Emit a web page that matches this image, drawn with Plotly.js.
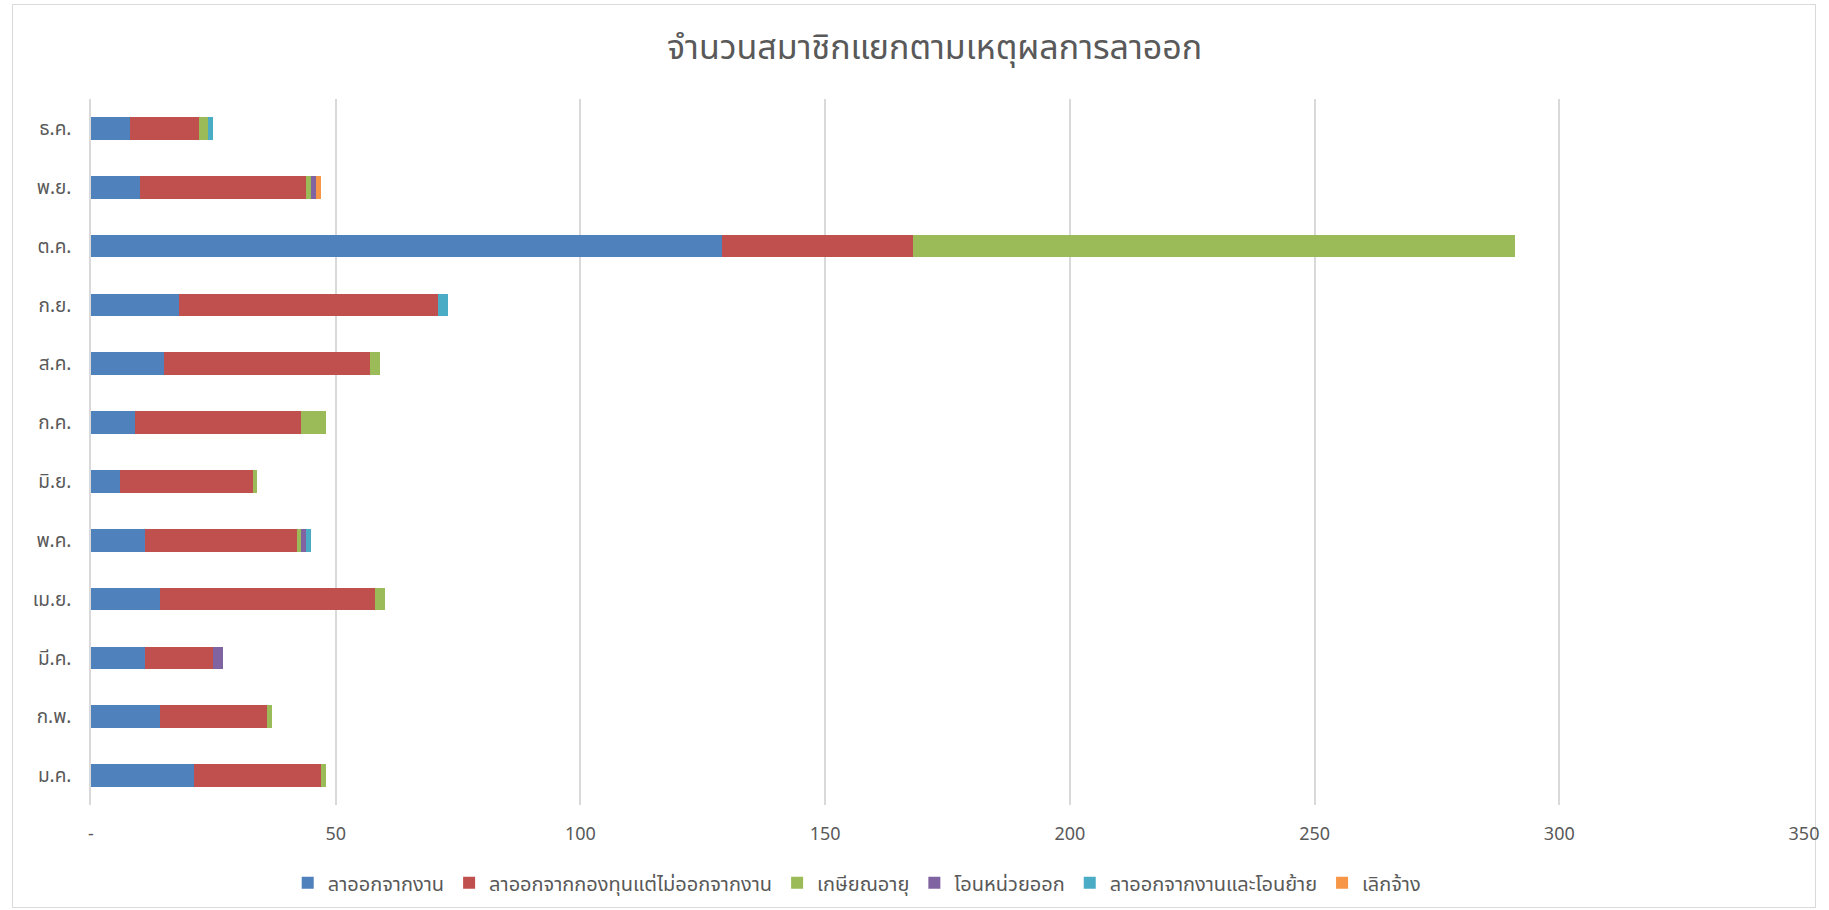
<!DOCTYPE html>
<html>
<head>
<meta charset="utf-8">
<script src="https://cdn.plot.ly/plotly-3.0.1.min.js"></script>
<style>
  html, body { margin: 0; padding: 0; background: #ffffff; }
  #frame { position: absolute; left: 12px; top: 4px; width: 1804px; height: 904px; border: 1px solid #D9D9D9; box-sizing: border-box; }
  #chart { position: absolute; left: 0; top: 0; width: 1829px; height: 910px; }
</style>
</head>
<body>
<div id="frame"></div>
<div id="chart"></div>
<script>
// Data
const months = ["ม.ค.", "ก.พ.", "มี.ค.", "เม.ย.", "พ.ค.", "มิ.ย.", "ก.ค.", "ส.ค.", "ก.ย.", "ต.ค.", "พ.ย.", "ธ.ค."];
const resignWork      = [21, 14, 11, 14, 11, 6, 9, 15, 18, 129, 10, 8];
const resignFundOnly  = [26, 22, 14, 44, 31, 27, 34, 42, 53, 39, 34, 14];
const retire          = [1, 1, 0, 2, 1, 1, 5, 2, 0, 123, 1, 2];
const transferOut     = [0, 0, 2, 0, 1, 0, 0, 0, 0, 0, 1, 0];
const resignTransfer  = [0, 0, 0, 0, 1, 0, 0, 0, 2, 0, 0, 1];
const dismissed       = [0, 0, 0, 0, 0, 0, 0, 0, 0, 0, 1, 0];

const seriesNames = ["ลาออกจากงาน", "ลาออกจากกองทุนแต่ไม่ออกจากงาน", "เกษียณอายุ", "โอนหน่วยออก", "ลาออกจากงานและโอนย้าย", "เลิกจ้าง"];
const seriesValues = [resignWork, resignFundOnly, retire, transferOut, resignTransfer, dismissed];
const seriesColors = ["#4F81BD", "#C0504D", "#9BBB59", "#8064A2", "#4BACC6", "#F79646"];

const xTickVals = [0, 50, 100, 150, 200, 250, 300, 350];
const xTickText = ["-", "50", "100", "150", "200", "250", "300", "350"];

const FONT = "'Noto Sans', 'Noto Sans Thai', Tahoma, sans-serif";

const traces = seriesNames.map((name, i) => ({
  type: "bar",
  orientation: "h",
  name: name,
  y: months,
  x: seriesValues[i],
  marker: { color: seriesColors[i], line: { width: 0 } },
  hoverinfo: "x+y+name"
}));

const layout = {
  width: 1829,
  height: 910,
  paper_bgcolor: "rgba(0,0,0,0)",
  plot_bgcolor: "rgba(0,0,0,0)",
  barmode: "stack",
  bargap: 0.615,
  margin: { l: 90.5, r: 25, t: 98.5, b: 104.5 },
  title: {
    text: "จำนวนสมาชิกแยกตามเหตุผลการลาออก",
    font: { family: FONT, size: 34, color: "#595959" },
    x: 0.511, xanchor: "center",
    y: 0.948, yanchor: "middle"
  },
  xaxis: {
    range: [0, 350],
    tickvals: xTickVals,
    ticktext: xTickText,
    showgrid: true,
    gridcolor: "#D9D9D9",
    gridwidth: 1.5,
    zeroline: false,
    showline: false,
    ticks: "",
    ticklabelstandoff: 16,
    tickfont: { family: FONT, size: 18, color: "#595959" },
    fixedrange: true,
    automargin: false
  },
  yaxis: {
    type: "category",
    categoryorder: "array",
    categoryarray: months,
    showgrid: false,
    zeroline: false,
    showline: true,
    linecolor: "#D9D9D9",
    linewidth: 1.5,
    ticks: "",
    ticklabelstandoff: 14,
    tickfont: { family: FONT, size: 19, color: "#595959" },
    fixedrange: true,
    automargin: false
  },
  legend: {
    orientation: "h",
    xref: "paper",
    x: 0.447, xanchor: "center",
    yref: "container",
    y: 0.03, yanchor: "middle",
    font: { family: FONT, size: 20, color: "#595959" },
    traceorder: "normal",
    itemwidth: 30
  },
  showlegend: true
};

Plotly.newPlot("chart", traces, layout, { displayModeBar: false, staticPlot: false });
</script>
</body>
</html>
